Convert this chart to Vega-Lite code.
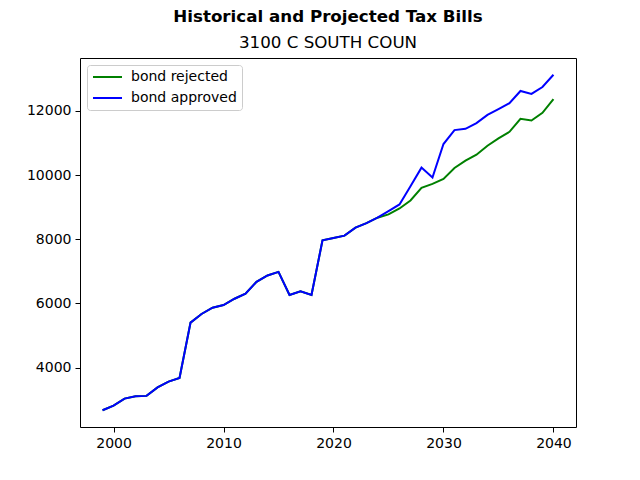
{
  "$schema": "https://vega.github.io/schema/vega-lite/v6.json",
  "autosize": "none",
  "width": 496,
  "height": 369,
  "padding": {"left": 80, "top": 58, "right": 64, "bottom": 53},
  "title": {
    "text": "Historical and Projected Tax Bills",
    "subtitle": "3100 C SOUTH COUN",
    "anchor": "middle",
    "font": "DejaVu Sans",
    "fontSize": 16.7,
    "fontWeight": "bold",
    "color": "black",
    "subtitleFont": "DejaVu Sans",
    "subtitleFontSize": 16.7,
    "subtitleColor": "black",
    "subtitlePadding": 10,
    "offset": 6
  },
  "datasets": {
    "bills": [
      {"year": 1999, "series": "bond rejected", "bill": 2676},
      {"year": 2000, "series": "bond rejected", "bill": 2822},
      {"year": 2001, "series": "bond rejected", "bill": 3039},
      {"year": 2002, "series": "bond rejected", "bill": 3110},
      {"year": 2003, "series": "bond rejected", "bill": 3123},
      {"year": 2004, "series": "bond rejected", "bill": 3389},
      {"year": 2005, "series": "bond rejected", "bill": 3566},
      {"year": 2006, "series": "bond rejected", "bill": 3681},
      {"year": 2007, "series": "bond rejected", "bill": 5404},
      {"year": 2008, "series": "bond rejected", "bill": 5674},
      {"year": 2009, "series": "bond rejected", "bill": 5869},
      {"year": 2010, "series": "bond rejected", "bill": 5953},
      {"year": 2011, "series": "bond rejected", "bill": 6148},
      {"year": 2012, "series": "bond rejected", "bill": 6303},
      {"year": 2013, "series": "bond rejected", "bill": 6675},
      {"year": 2014, "series": "bond rejected", "bill": 6874},
      {"year": 2015, "series": "bond rejected", "bill": 6985},
      {"year": 2016, "series": "bond rejected", "bill": 6263},
      {"year": 2017, "series": "bond rejected", "bill": 6378},
      {"year": 2018, "series": "bond rejected", "bill": 6263},
      {"year": 2019, "series": "bond rejected", "bill": 7968},
      {"year": 2020, "series": "bond rejected", "bill": 8040},
      {"year": 2021, "series": "bond rejected", "bill": 8114},
      {"year": 2022, "series": "bond rejected", "bill": 8362},
      {"year": 2023, "series": "bond rejected", "bill": 8504},
      {"year": 2024, "series": "bond rejected", "bill": 8672},
      {"year": 2025, "series": "bond rejected", "bill": 8774},
      {"year": 2026, "series": "bond rejected", "bill": 8960},
      {"year": 2027, "series": "bond rejected", "bill": 9208},
      {"year": 2028, "series": "bond rejected", "bill": 9602},
      {"year": 2029, "series": "bond rejected", "bill": 9726},
      {"year": 2030, "series": "bond rejected", "bill": 9881},
      {"year": 2031, "series": "bond rejected", "bill": 10222},
      {"year": 2032, "series": "bond rejected", "bill": 10448},
      {"year": 2033, "series": "bond rejected", "bill": 10634},
      {"year": 2034, "series": "bond rejected", "bill": 10913},
      {"year": 2035, "series": "bond rejected", "bill": 11140},
      {"year": 2036, "series": "bond rejected", "bill": 11347},
      {"year": 2037, "series": "bond rejected", "bill": 11750},
      {"year": 2038, "series": "bond rejected", "bill": 11697},
      {"year": 2039, "series": "bond rejected", "bill": 11936},
      {"year": 2040, "series": "bond rejected", "bill": 12361},
      {"year": 1999, "series": "bond approved", "bill": 2676},
      {"year": 2000, "series": "bond approved", "bill": 2822},
      {"year": 2001, "series": "bond approved", "bill": 3039},
      {"year": 2002, "series": "bond approved", "bill": 3110},
      {"year": 2003, "series": "bond approved", "bill": 3123},
      {"year": 2004, "series": "bond approved", "bill": 3389},
      {"year": 2005, "series": "bond approved", "bill": 3566},
      {"year": 2006, "series": "bond approved", "bill": 3681},
      {"year": 2007, "series": "bond approved", "bill": 5404},
      {"year": 2008, "series": "bond approved", "bill": 5674},
      {"year": 2009, "series": "bond approved", "bill": 5869},
      {"year": 2010, "series": "bond approved", "bill": 5953},
      {"year": 2011, "series": "bond approved", "bill": 6148},
      {"year": 2012, "series": "bond approved", "bill": 6303},
      {"year": 2013, "series": "bond approved", "bill": 6675},
      {"year": 2014, "series": "bond approved", "bill": 6874},
      {"year": 2015, "series": "bond approved", "bill": 6985},
      {"year": 2016, "series": "bond approved", "bill": 6263},
      {"year": 2017, "series": "bond approved", "bill": 6378},
      {"year": 2018, "series": "bond approved", "bill": 6263},
      {"year": 2019, "series": "bond approved", "bill": 7968},
      {"year": 2020, "series": "bond approved", "bill": 8040},
      {"year": 2021, "series": "bond approved", "bill": 8114},
      {"year": 2022, "series": "bond approved", "bill": 8362},
      {"year": 2023, "series": "bond approved", "bill": 8504},
      {"year": 2024, "series": "bond approved", "bill": 8672},
      {"year": 2025, "series": "bond approved", "bill": 8876},
      {"year": 2026, "series": "bond approved", "bill": 9084},
      {"year": 2027, "series": "bond approved", "bill": 9652},
      {"year": 2028, "series": "bond approved", "bill": 10231},
      {"year": 2029, "series": "bond approved", "bill": 9921},
      {"year": 2030, "series": "bond approved", "bill": 10966},
      {"year": 2031, "series": "bond approved", "bill": 11400},
      {"year": 2032, "series": "bond approved", "bill": 11440},
      {"year": 2033, "series": "bond approved", "bill": 11617},
      {"year": 2034, "series": "bond approved", "bill": 11874},
      {"year": 2035, "series": "bond approved", "bill": 12051},
      {"year": 2036, "series": "bond approved", "bill": 12237},
      {"year": 2037, "series": "bond approved", "bill": 12618},
      {"year": 2038, "series": "bond approved", "bill": 12525},
      {"year": 2039, "series": "bond approved", "bill": 12742},
      {"year": 2040, "series": "bond approved", "bill": 13123}
    ]
  },
  "data": {"name": "bills"},
  "mark": {"type": "line", "strokeWidth": 2},
  "encoding": {
    "x": {
      "field": "year",
      "type": "quantitative",
      "title": null,
      "scale": {"domain": [1996.95, 2042.05], "nice": false, "zero": false},
      "axis": {"values": [2000, 2010, 2020, 2030, 2040], "format": "d"}
    },
    "y": {
      "field": "bill",
      "type": "quantitative",
      "title": null,
      "scale": {"domain": [2154, 13645], "nice": false, "zero": false},
      "axis": {"values": [4000, 6000, 8000, 10000, 12000], "format": "d"}
    },
    "color": {
      "field": "series",
      "type": "nominal",
      "scale": {"domain": ["bond rejected", "bond approved"], "range": ["#008000", "#0000ff"]},
      "legend": {
        "title": null,
        "orient": "none",
        "legendX": 7,
        "legendY": 7,
        "symbolType": "stroke",
        "symbolSize": 841,
        "symbolStrokeWidth": 2,
        "clipHeight": 14,
        "labelFont": "DejaVu Sans",
        "labelFontSize": 14,
        "labelColor": "black",
        "labelOffset": 8,
        "rowPadding": 7,
        "padding": 5,
        "strokeColor": "#cccccc",
        "fillColor": "rgba(255,255,255,0.8)",
        "cornerRadius": 3
      }
    },
    "order": {"field": "year", "type": "quantitative"}
  },
  "config": {
    "view": {"stroke": "black", "strokeWidth": 1},
    "axis": {
      "grid": false,
      "domain": false,
      "tickColor": "black",
      "tickSize": 5,
      "labelFont": "DejaVu Sans",
      "labelFontSize": 14,
      "labelColor": "black",
      "labelPadding": 4
    }
  }
}
